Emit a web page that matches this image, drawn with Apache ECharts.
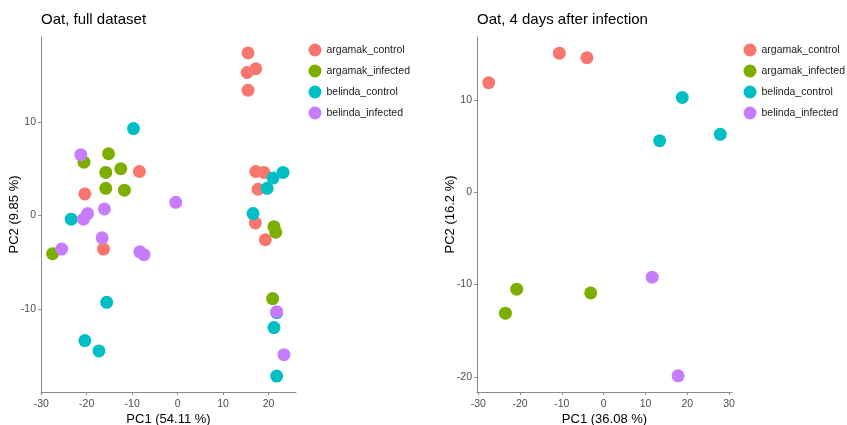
<!DOCTYPE html>
<html><head><meta charset="utf-8">
<script src="https://cdn.jsdelivr.net/npm/echarts@6/dist/echarts.min.js"></script>
<style>html,body{margin:0;padding:0;background:#fff}#c{width:847px;height:425px}</style>
</head><body><div id="c"></div>
<script>
const groups = ['argamak_control','argamak_infected','belinda_control','belinda_infected'];
const colors = ['#F8766D','#7CAE00','#00BFC4','#C77CFF'];

// Left panel: Oat, full dataset  [PC1, PC2]
const full_argamak_control = [[15.5,17.4],[15.3,15.3],[17.2,15.7],[15.5,13.4],[-8.4,4.7],[-20.4,2.3],[-16.3,-3.6],[17.2,4.7],[19.0,4.6],[17.7,2.8],[17.1,-0.8],[19.3,-2.6]];
const full_argamak_infected = [[-20.6,5.7],[-15.2,6.6],[-15.8,4.6],[-12.5,5.0],[-15.8,2.9],[-11.7,2.7],[-27.5,-4.1],[21.2,-1.2],[21.6,-1.8],[20.9,-8.9]];
const full_belinda_control = [[-9.7,9.3],[-23.4,-0.4],[-15.6,-9.3],[-20.4,-13.4],[-17.3,-14.5],[16.6,0.2],[21.0,4.0],[23.2,4.6],[19.7,2.9],[21.8,-10.4],[21.2,-12.0],[21.8,-17.2]];
const full_belinda_infected = [[-21.3,6.5],[-19.8,0.2],[-20.7,-0.4],[-16.1,0.7],[-25.5,-3.6],[-16.6,-2.4],[-8.3,-3.9],[-7.4,-4.2],[-0.4,1.4],[21.8,-10.3],[23.4,-14.9]];

// Right panel: Oat, 4 days after infection
const d4_argamak_control = [[-27.5,11.9],[-10.6,15.1],[-4.0,14.6]];
const d4_argamak_infected = [[-23.5,-13.1],[-20.8,-10.5],[-3.1,-10.9]];
const d4_belinda_control = [[18.8,10.3],[13.4,5.6],[27.9,6.3]];
const d4_belinda_infected = [[11.6,-9.2],[17.8,-19.9]];

const leftXTicks = [-30,-20,-10,0,10,20];
const leftYTicks = [-10,0,10];
const rightXTicks = [-30,-20,-10,0,10,20,30];
const rightYTicks = [-20,-10,0,10];

const FONT = '"Liberation Sans", Arial, sans-serif';
const fullData = [full_argamak_control, full_argamak_infected, full_belinda_control, full_belinda_infected];
const d4Data = [d4_argamak_control, d4_argamak_infected, d4_belinda_control, d4_belinda_infected];

function axis(gridIndex, min, max, ticks, name, gap, labelMargin) {
  return {
    type: 'value', gridIndex, min, max, name, nameLocation: 'middle', nameGap: gap,
    nameMoveOverlap: false,
    nameTextStyle: {fontFamily: FONT, fontSize: 13, color: '#000'},
    axisLine: {show: true, onZero: false, lineStyle: {color: '#8a8a8a', width: 1}},
    axisTick: {show: true, length: 3, lineStyle: {color: '#8a8a8a'}, customValues: ticks},
    axisLabel: {fontFamily: FONT, fontSize: 10.5, color: '#4D4D4D', margin: labelMargin, customValues: ticks},
    splitLine: {show: false}
  };
}

const series = [];
groups.forEach((g, i) => {
  series.push({type: 'scatter', name: g, xAxisIndex: 0, yAxisIndex: 0, data: fullData[i],
    symbolSize: 13, itemStyle: {color: colors[i], opacity: 1}, emphasis: {disabled: true}});
});
groups.forEach((g, i) => {
  series.push({type: 'scatter', name: g, xAxisIndex: 1, yAxisIndex: 1, data: d4Data[i],
    symbolSize: 13, itemStyle: {color: colors[i], opacity: 1}, emphasis: {disabled: true}});
});

function legend(left) {
  return {orient: 'vertical', left, top: 43.5, padding: 0, icon: 'circle', itemWidth: 13, itemHeight: 13,
    itemGap: 8, data: groups, textStyle: {fontFamily: FONT, fontSize: 10.5, color: '#1a1a1a'}};
}

const chart = echarts.init(document.getElementById('c'), null, {renderer: 'canvas'});
chart.setOption({
  animation: false,
  backgroundColor: '#fff',
  title: [
    {text: 'Oat, full dataset', left: 41, top: 12, padding: 0, textStyle: {fontFamily: FONT, fontSize: 15, fontWeight: 'normal', color: '#000'}},
    {text: 'Oat, 4 days after infection', left: 477, top: 12, padding: 0, textStyle: {fontFamily: FONT, fontSize: 15, fontWeight: 'normal', color: '#000'}}
  ],
  legend: [legend(308.5), legend(743.5)],
  grid: [
    {left: 41, top: 37, width: 255, height: 355, outerBoundsMode: 'none', containLabel: false},
    {left: 477, top: 37, width: 255, height: 355, outerBoundsMode: 'none', containLabel: false}
  ],
  xAxis: [
    axis(0, -30.05, 26.05, leftXTicks, 'PC1 (54.11 %)', 20.5, 7),
    axis(1, -30.3, 30.7, rightXTicks, 'PC1 (36.08 %)', 20.5, 7)
  ],
  yAxis: [
    axis(0, -18.9, 19.1, leftYTicks, 'PC2 (9.85 %)', 20, 5),
    axis(1, -21.65, 16.85, rightYTicks, 'PC2 (16.2 %)', 20, 5)
  ],
  series
});
</script></body></html>
